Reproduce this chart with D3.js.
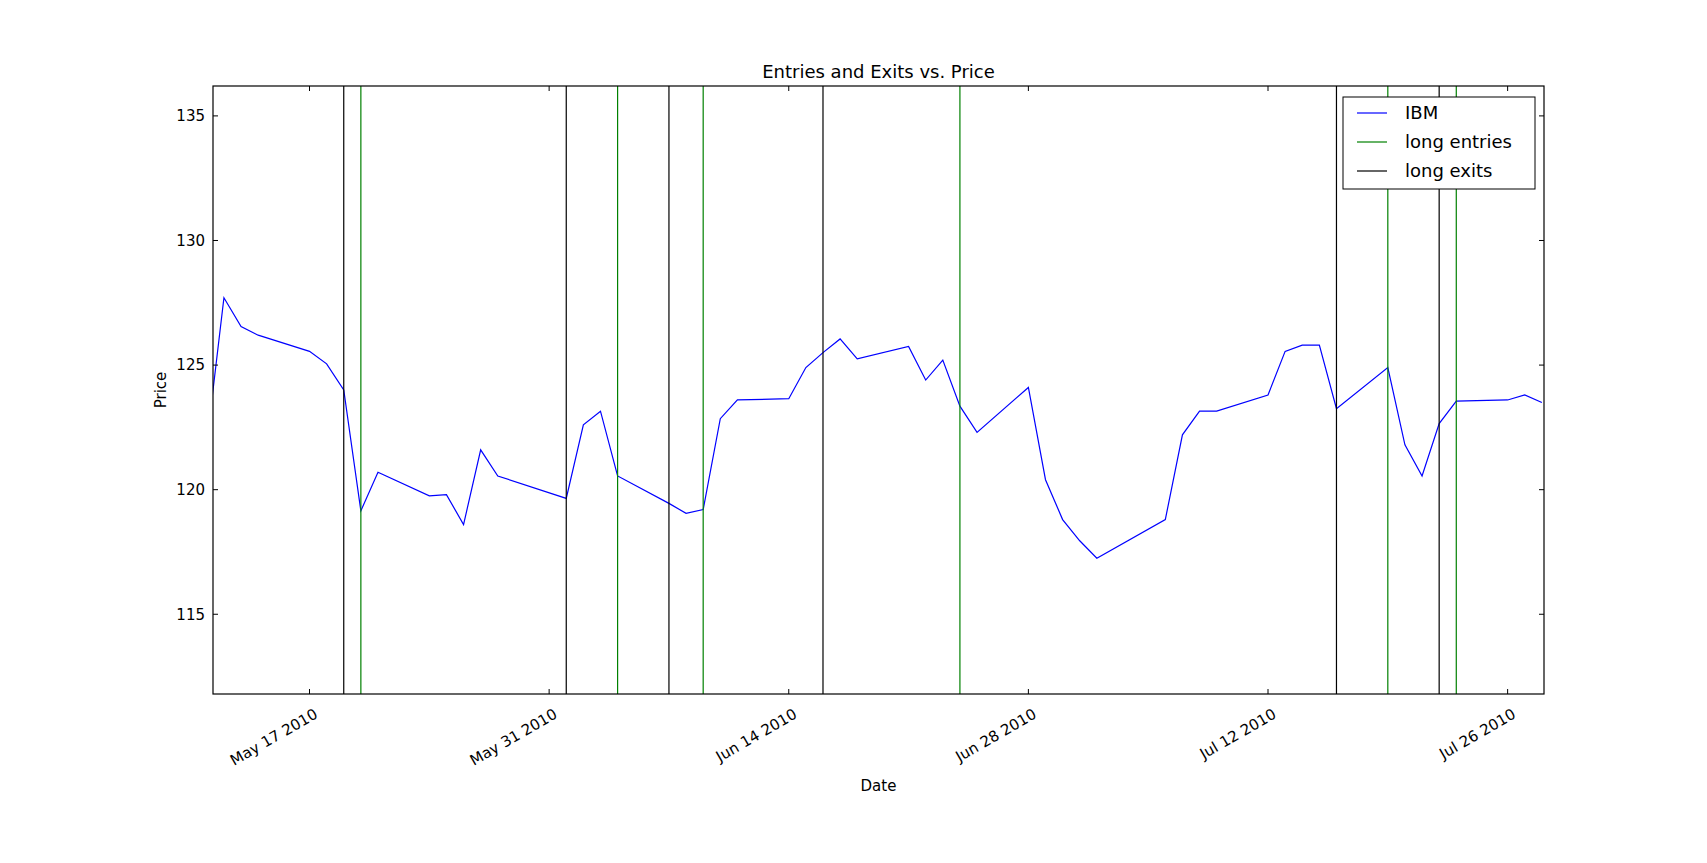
<!DOCTYPE html>
<html><head><meta charset="utf-8">
<script src="https://cdn.jsdelivr.net/npm/d3@7"></script>
<style>body{margin:0;background:#fff}text{font-family:"DejaVu Sans",sans-serif}</style>
</head><body><svg width="1707" height="863"></svg>
<script>
const dates = ["2010-05-11","2010-05-12","2010-05-13","2010-05-14","2010-05-17","2010-05-18","2010-05-19","2010-05-20","2010-05-21",
  "2010-05-24","2010-05-25","2010-05-26","2010-05-27","2010-05-28","2010-06-01","2010-06-02","2010-06-03","2010-06-04",
  "2010-06-07","2010-06-08","2010-06-09","2010-06-10","2010-06-11","2010-06-14","2010-06-15","2010-06-16","2010-06-17","2010-06-18",
  "2010-06-21","2010-06-22","2010-06-23","2010-06-24","2010-06-25","2010-06-28","2010-06-29","2010-06-30","2010-07-01","2010-07-02",
  "2010-07-06","2010-07-07","2010-07-08","2010-07-09","2010-07-12","2010-07-13","2010-07-14","2010-07-15","2010-07-16",
  "2010-07-19","2010-07-20","2010-07-21","2010-07-22","2010-07-23","2010-07-26","2010-07-27","2010-07-28"];
const prices = [121.9,127.7,126.55,126.2,125.55,125.05,124.0,119.15,120.7,
  119.75,119.8,118.6,121.6,120.55,119.65,122.6,123.15,120.55,
  119.45,119.05,119.2,122.85,123.6,123.65,124.9,125.5,126.05,125.25,
  125.75,124.4,125.2,123.35,122.3,124.1,120.4,118.8,117.95,117.25,
  118.8,122.2,123.15,123.15,123.8,125.55,125.8,125.8,123.25,
  124.9,121.8,120.55,122.65,123.55,123.6,123.8,123.5];
const longEntries = ["2010-05-20","2010-06-04","2010-06-09","2010-06-24","2010-07-19","2010-07-23"];
const longExits = ["2010-05-19","2010-06-01","2010-06-07","2010-06-16","2010-07-16","2010-07-22"];
const xTicks = ["2010-05-17","2010-05-31","2010-06-14","2010-06-28","2010-07-12","2010-07-26"];
const yTicks = [115,120,125,130,135];

const parse = d3.timeParse("%Y-%m-%d");
const L = 213, R = 1544, T = 86, B = 694;
const svg = d3.select("svg");
const x = d3.scaleTime().domain([new Date(2010,4,11,8,40), new Date(2010,6,28,3,0)]).range([L, R]);
const y = d3.scaleLinear().domain([111.8, 136.2]).range([B, T]);

svg.append("clipPath").attr("id","clip").append("rect").attr("x",L).attr("y",T).attr("width",R-L).attr("height",B-T);
const g = svg.append("g").attr("clip-path","url(#clip)");

const pts = dates.map((d,i)=>({d:parse(d), v:prices[i]}));
g.append("path").datum(pts).attr("fill","none").attr("stroke","#0000ff").attr("stroke-width",1.2)
  .attr("d", d3.line().x(p=>x(p.d)).y(p=>y(p.v)));

g.selectAll(".exit").data(longExits).enter().append("line")
  .attr("x1",d=>x(parse(d))).attr("x2",d=>x(parse(d))).attr("y1",T).attr("y2",B)
  .attr("stroke","#000").attr("stroke-width",1.2);
g.selectAll(".entry").data(longEntries).enter().append("line")
  .attr("x1",d=>x(parse(d))).attr("x2",d=>x(parse(d))).attr("y1",T).attr("y2",B)
  .attr("stroke","#008000").attr("stroke-width",1.2);

// ticks (inside, all four sides)
const fmt = d3.timeFormat("%b %d %Y");
xTicks.forEach(t => {
  const xx = x(parse(t));
  svg.append("line").attr("x1",xx).attr("x2",xx).attr("y1",B).attr("y2",B-5).attr("stroke","#000");
  svg.append("line").attr("x1",xx).attr("x2",xx).attr("y1",T).attr("y2",T+5).attr("stroke","#000");
  svg.append("text").attr("transform",`translate(${xx+4},${B+14}) rotate(-30)`).attr("text-anchor","end")
    .attr("dy","0.7em").attr("font-size",15).text(fmt(parse(t)));
});
yTicks.forEach(t => {
  const yy = y(t);
  svg.append("line").attr("x1",L).attr("x2",L+5).attr("y1",yy).attr("y2",yy).attr("stroke","#000");
  svg.append("line").attr("x1",R).attr("x2",R-5).attr("y1",yy).attr("y2",yy).attr("stroke","#000");
  svg.append("text").attr("x",L-8).attr("y",yy).attr("dy","0.35em").attr("text-anchor","end").attr("font-size",15).text(t);
});
svg.append("rect").attr("x",L).attr("y",T).attr("width",R-L).attr("height",B-T).attr("fill","none").attr("stroke","#000").attr("stroke-width",1.2);

svg.append("text").attr("x",(L+R)/2).attr("y",T-8).attr("text-anchor","middle").attr("font-size",18).text("Entries and Exits vs. Price");
svg.append("text").attr("x",(L+R)/2).attr("y",791).attr("text-anchor","middle").attr("font-size",15).text("Date");
svg.append("text").attr("transform",`translate(166,${(T+B)/2}) rotate(-90)`).attr("text-anchor","middle").attr("font-size",15).text("Price");

// legend
const legend = [["IBM","#0000ff"],["long entries","#008000"],["long exits","#000"]];
const lg = svg.append("g").attr("transform","translate(1343,97)");
lg.append("rect").attr("width",192).attr("height",92).attr("fill","#fff").attr("stroke","#000");
legend.forEach(([name,c],i)=>{
  const yy = 16 + i*29;
  lg.append("line").attr("x1",14).attr("x2",44).attr("y1",yy).attr("y2",yy).attr("stroke",c).attr("stroke-width",1.2);
  lg.append("text").attr("x",62).attr("y",yy).attr("dy","0.35em").attr("font-size",18).text(name);
});
</script></body></html>
